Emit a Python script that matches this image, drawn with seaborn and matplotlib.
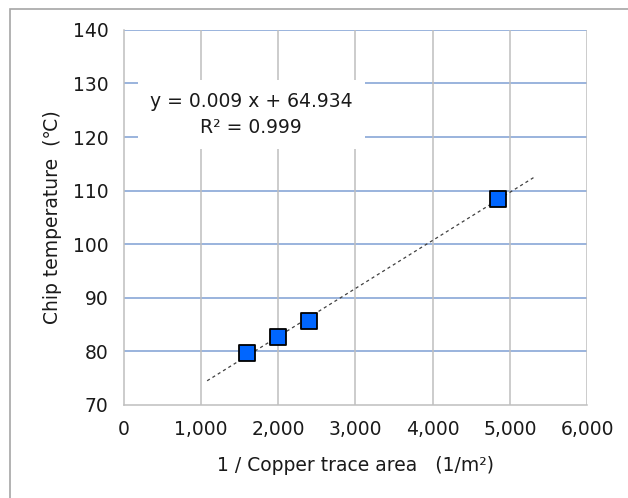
import numpy as np
import matplotlib
matplotlib.use("Agg")
import matplotlib.pyplot as plt
import seaborn as sns
from matplotlib.patches import Rectangle

# Data
inv_area = [1600, 2000, 2400, 4850]          # 1 / copper trace area (1/m^2)
chip_temp = [79.7, 82.7, 85.7, 108.5]        # chip temperature (C)
x_ticks = [0, 1000, 2000, 3000, 4000, 5000, 6000]
y_ticks = [70, 80, 90, 100, 110, 120, 130, 140]
trend_range = [1080, 5330]
eq_text = "y = 0.009 x + 64.934\nR² = 0.999"

sns.set_style("white")
plt.rcParams['font.family'] = ['DejaVu Sans', 'Noto Sans CJK JP']
FS = 13.5

fig = plt.figure(figsize=(6.28, 4.98), dpi=100)
ax = fig.add_axes([0.197, 0.187, 0.738, 0.753])

# outer frame
fig.patches.append(Rectangle((10 / 628, -0.1), 1.2, 1.1 - 9 / 498, transform=fig.transFigure,
                             fill=False, edgecolor='#a6a6a6', linewidth=1.2))

# gridlines
for yv in y_ticks[1:]:
    ax.axhline(yv, color='#7f9fd3', linewidth=1.1, zorder=0)
for xv in x_ticks[1:]:
    ax.axvline(xv, color='#bfbfbf', linewidth=1.1, zorder=0)

# trendline
coef = np.polyfit(inv_area, chip_temp, 1)
tx = np.array(trend_range)
ax.plot(tx, np.polyval(coef, tx), color='#404040', linewidth=0.9,
        linestyle=(0, (2.5, 2.5)), zorder=2)

sns.scatterplot(x=inv_area, y=chip_temp, ax=ax, marker='s', s=130,
                color='#0066ff', edgecolor='black', linewidth=1.3, zorder=3)

ax.text(1650, 124.2, eq_text, ha='center', va='center', fontsize=FS,
        color='#1a1a1a', linespacing=1.45,
        bbox=dict(boxstyle='square,pad=0.65', facecolor='white', edgecolor='none'),
        zorder=4)

ax.set_xlim(0, 6000)
ax.set_ylim(70, 140)
ax.set_xticks(x_ticks)
ax.set_yticks(y_ticks)
ax.set_xticklabels([f"{v:,}" for v in x_ticks])
ax.tick_params(axis='both', labelsize=FS, colors='#1a1a1a', direction='out',
               length=6, width=1.1, pad=5)
ax.tick_params(axis='y', color='#bfbfbf')
ax.tick_params(axis='x', color='#bfbfbf')

for s in ['top', 'right']:
    ax.spines[s].set_visible(False)
ax.spines['left'].set_color('#bfbfbf')
ax.spines['bottom'].set_color('#bfbfbf')
ax.spines['left'].set_linewidth(1.1)
ax.spines['bottom'].set_linewidth(1.1)

ax.set_xlabel("1 / Copper trace area   (1/m²)", fontsize=FS, color='#1a1a1a', labelpad=12)
ax.set_ylabel("Chip temperature  (℃)", fontsize=FS, color='#1a1a1a', labelpad=8)

fig.savefig("out.png", dpi=100)
